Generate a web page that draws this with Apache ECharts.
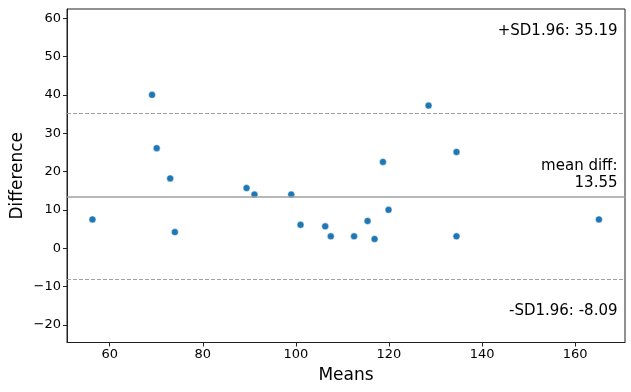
<!DOCTYPE html>
<html>
<head>
<meta charset="utf-8">
<script src="https://cdn.jsdelivr.net/npm/echarts@6/dist/echarts.min.js"></script>
<style>html,body{margin:0;padding:0;background:#fff}#c{width:631px;height:392px}</style>
</head>
<body>
<div id="c"></div>
<script>
var means = [56.3, 69.1, 70.1, 73.0, 74.0, 89.4, 91.1, 99.0, 101.0, 106.3, 107.5, 112.5, 115.4, 116.9, 118.7, 119.9, 128.5, 134.5, 134.5, 165.1];
var diffs = [7.5, 40.0, 26.1, 18.2, 4.2, 15.7, 14.0, 14.0, 6.1, 5.7, 3.1, 3.1, 7.1, 2.4, 22.5, 10.0, 37.2, 25.1, 3.1, 7.5];
var meanDiff = 13.55;
var upperLoA = 35.19;
var lowerLoA = -8.09;
var xTicks = [60, 80, 100, 120, 140, 160];
var yTicks = [-20, -10, 0, 10, 20, 30, 40, 50, 60];

var font = 'DejaVu Sans';
var chart = echarts.init(document.getElementById('c'), null, {renderer: 'canvas'});
var pts = means.map(function (m, i) { return [m, diffs[i]]; });
function fmt(v) { return v < 0 ? '\u2212' + Math.abs(v) : String(v); }

chart.setOption({
  animation: false,
  backgroundColor: '#fff',
  grid: {left: 67, right: 6, top: 9, bottom: 49.5, show: true, borderColor: '#222', borderWidth: 1, containLabel: false, outerBoundsMode: 'none'},
  xAxis: {
    type: 'value', min: 50.83, max: 170.7,
    name: 'Means', nameLocation: 'middle', nameGap: 25, nameMoveOverlap: false,
    nameTextStyle: {fontFamily: font, fontSize: 17, color: '#000'},
    axisLine: {show: true, onZero: false, lineStyle: {color: '#222', width: 1}},
    axisTick: {show: true, length: 4, lineStyle: {color: '#222'}, customValues: xTicks},
    axisLabel: {fontFamily: font, fontSize: 13, color: '#000', margin: 6, customValues: xTicks, formatter: fmt},
    splitLine: {show: false}
  },
  yAxis: {
    type: 'value', min: -24.6, max: 62.4,
    name: 'Difference', nameLocation: 'middle', nameGap: 41, nameMoveOverlap: false,
    nameTextStyle: {fontFamily: font, fontSize: 17, color: '#000'},
    axisLine: {show: true, onZero: false, lineStyle: {color: '#222', width: 1}},
    axisTick: {show: true, length: 4, lineStyle: {color: '#222'}, customValues: yTicks},
    axisLabel: {fontFamily: font, fontSize: 13, color: '#000', margin: 6, customValues: yTicks, formatter: fmt},
    splitLine: {show: false}
  },
  series: [{
    type: 'scatter',
    data: pts,
    symbolSize: 7,
    itemStyle: {color: '#1f77b4', borderColor: '#fff', borderWidth: 0.5, opacity: 1},
    markLine: {
      silent: true, symbol: 'none', animation: false,
      label: {show: false},
      data: [
        {yAxis: meanDiff, lineStyle: {color: '#a0a0a0', type: 'solid', width: 1.5}},
        {yAxis: upperLoA, lineStyle: {color: '#a0a0a0', type: [4, 2], width: 1.2}},
        {yAxis: lowerLoA, lineStyle: {color: '#a0a0a0', type: [4, 2], width: 1.2}}
      ]
    }
  }],
  graphic: [
    {type: 'text', x: 617.5, y: 30.7, style: {text: '+SD1.96: ' + upperLoA.toFixed(2), fontFamily: font, fontSize: 15, fill: '#000', align: 'right', verticalAlign: 'middle'}},
    {type: 'text', x: 617.5, y: 165.7, style: {text: 'mean diff:', fontFamily: font, fontSize: 15, fill: '#000', align: 'right', verticalAlign: 'middle'}},
    {type: 'text', x: 617.5, y: 183.3, style: {text: meanDiff.toFixed(2), fontFamily: font, fontSize: 15, fill: '#000', align: 'right', verticalAlign: 'middle'}},
    {type: 'text', x: 617.5, y: 311, style: {text: '-SD1.96: ' + lowerLoA.toFixed(2), fontFamily: font, fontSize: 15, fill: '#000', align: 'right', verticalAlign: 'middle'}}
  ]
});
</script>
</body>
</html>
